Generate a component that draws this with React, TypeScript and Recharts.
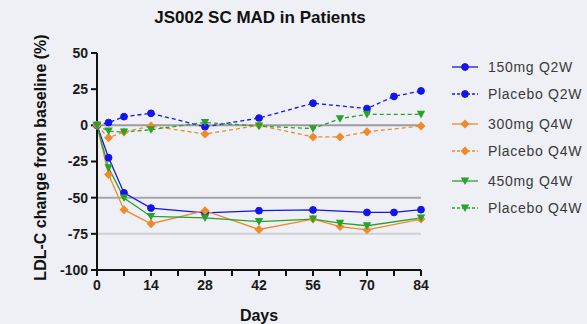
import React from 'react';
import { LineChart, Line, XAxis, YAxis, ReferenceLine } from 'recharts';

const days = [0, 3, 7, 14, 28, 42, 56, 63, 70, 77, 84];
const mg150Q2W = [0, -22.4, -46.7, -57.2, -60.5, -59, -58.5, null, -60.2, -60.2, -58.3];
const placeboQ2W = [0, 1.9, 6, 8.3, -1, 5, 15.3, null, 11.6, 20, 23.8];
const mg300Q4W = [0, -34, -58.3, -68, -59, -72, -64.8, -70, -72.2, null, -64.8];
const placeboQ4Worange = [0, -8.6, -4.6, -0.5, -6, 0, -8, -8, -4.4, null, -0.5];
const mg450Q4W = [0, -29.4, -50.2, -63, -64, -66.5, -64.8, -67.6, -69.4, null, -64];
const placeboQ4Wgreen = [0, -4, -4.6, -3, 2, -0.5, -2.3, 4.6, 7.6, null, 7.6];

const xTicks = [0, 7, 14, 21, 28, 35, 42, 49, 56, 63, 70, 77, 84];
const yTicks = [50, 25, 0, -25, -50, -75, -100];

const BLUE = '#1414ee';
const ORANGE = '#ef8a2c';
const GREEN = '#27a22b';

const series = [
  { key: 'a150', name: '150mg Q2W', color: BLUE, dash: undefined, shape: 'circle', values: mg150Q2W, group: 0 },
  { key: 'p2', name: 'Placebo Q2W', color: BLUE, dash: '4 3', shape: 'circle', values: placeboQ2W, group: 0 },
  { key: 'a300', name: '300mg Q4W', color: ORANGE, dash: undefined, shape: 'diamond', values: mg300Q4W, group: 1 },
  { key: 'p4o', name: 'Placebo Q4W', color: ORANGE, dash: '4 3', shape: 'diamond', values: placeboQ4Worange, group: 1 },
  { key: 'a450', name: '450mg Q4W', color: GREEN, dash: undefined, shape: 'triangle', values: mg450Q4W, group: 2 },
  { key: 'p4g', name: 'Placebo Q4W', color: GREEN, dash: '4 3', shape: 'triangle', values: placeboQ4Wgreen, group: 2 },
];

const data = days.map((d, i) => {
  const row: any = { day: d };
  series.forEach(s => { row[s.key] = s.values[i]; });
  return row;
});

const FONT = '"Liberation Sans", Arial, sans-serif';

function Marker({ cx, cy, color, shape }: any) {
  if (cx == null || cy == null || isNaN(cy)) return null;
  if (shape === 'circle') return <circle cx={cx} cy={cy} r={3.4} fill={color} stroke={color} />;
  if (shape === 'diamond')
    return <polygon points={`${cx},${cy - 4.5} ${cx + 4.5},${cy} ${cx},${cy + 4.5} ${cx - 4.5},${cy}`} fill={color} />;
  return <polygon points={`${cx - 4.2},${cy - 3.5} ${cx + 4.2},${cy - 3.5} ${cx},${cy + 4.1}`} fill={color} />;
}

function LegendBox() {
  return (
    <div style={{ position: 'absolute', left: 452, top: 53, fontFamily: FONT }}>
      {series.map((s, i) => (
        <div key={s.key} style={{ display: 'flex', alignItems: 'center', height: 27, marginTop: i > 0 && series[i - 1].group !== s.group ? 3 : 0 }}>
          <svg width={26} height={12} style={{ marginRight: 10 }}>
            <line x1={0} y1={6} x2={26} y2={6} stroke={s.color} strokeWidth={1.3} strokeDasharray={s.dash ? '3 2' : undefined} />
            <Marker cx={13} cy={6} color={s.color} shape={s.shape} />
          </svg>
          <span style={{ fontSize: 14, color: '#3a3a3a', letterSpacing: 0.7, whiteSpace: 'nowrap' }}>{s.name}</span>
        </div>
      ))}
    </div>
  );
}

export default function App() {
  const tick = { fill: '#1a1a1a', fontSize: 14, fontWeight: 700, fontFamily: FONT };
  return (
    <div style={{ position: 'absolute', left: 0, top: 0, width: 587, height: 324, background: '#eef0f5', fontFamily: FONT, overflow: 'hidden' }}>
      <div style={{ position: 'absolute', left: 0, top: 8, width: 520, textAlign: 'center', fontSize: 17, fontWeight: 700, color: '#111' }}>
        JS002 SC MAD in Patients
      </div>
      <LineChart width={587} height={324} data={data} margin={{ top: 53, right: 166, bottom: 0, left: 0 }}>
        <ReferenceLine y={-75} stroke="#cfd0d3" strokeWidth={2} />
        <ReferenceLine y={-50} stroke="#a6a7aa" strokeWidth={2} />
        <ReferenceLine y={0} stroke="#9c9c9f" strokeWidth={2} />
        <XAxis
          dataKey="day"
          type="number"
          domain={[0, 84]}
          ticks={xTicks}
          interval={0}
          height={54}
          tickFormatter={(v: number) => (v % 14 === 0 ? String(v) : '')}
          tick={tick}
          tickSize={6}
          tickMargin={4}
          stroke="#111"
          strokeWidth={2}
          label={{
            content: (p: any) => (
              <text x={p.viewBox.x + p.viewBox.width / 2} y={p.viewBox.y + 51} textAnchor="middle" fontSize={16} fontWeight={700} fontFamily={FONT} fill="#111">
                Days
              </text>
            ),
          }}
        />
        <YAxis
          type="number"
          domain={[-100, 50]}
          ticks={yTicks}
          interval={0}
          width={97}
          tick={tick}
          tickSize={6}
          tickMargin={3}
          stroke="#111"
          strokeWidth={2}
          label={{
            content: (p: any) => {
              const cx = 40;
              const cy = p.viewBox.y + p.viewBox.height / 2 - 4;
              return (
                <text x={cx} y={cy} transform={`rotate(-90 ${cx} ${cy})`} textAnchor="middle" dominantBaseline="central" fontSize={16} fontWeight={700} fontFamily={FONT} fill="#111">
                  LDL-C change from baseline (%)
                </text>
              );
            },
          }}
        />
        {series.map(s => (
          <Line
            key={s.key}
            dataKey={s.key}
            name={s.name}
            stroke={s.color}
            strokeWidth={1.3}
            strokeDasharray={s.dash}
            connectNulls
            isAnimationActive={false}
            dot={(p: any) => <Marker key={`${s.key}-${p.index}`} cx={p.cx} cy={p.cy} color={s.color} shape={s.shape} />}
            activeDot={false}
          />
        ))}
      </LineChart>
      <LegendBox />
    </div>
  );
}
